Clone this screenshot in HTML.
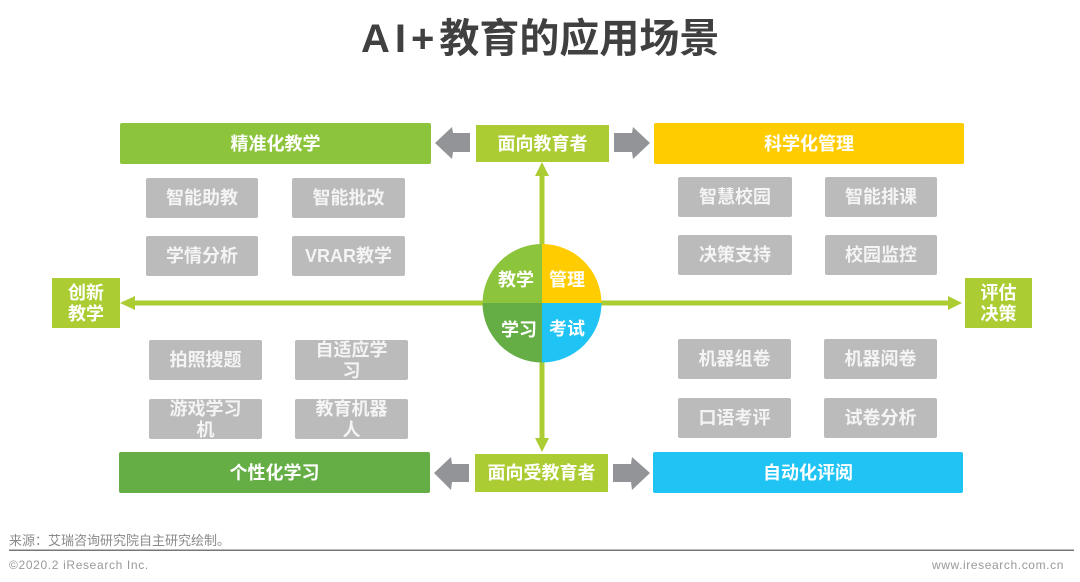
<!DOCTYPE html>
<html lang="zh-CN">
<head>
<meta charset="utf-8">
<title>AI+教育的应用场景</title>
<style>
html,body{margin:0;padding:0;background:#fff}
#c{position:relative;width:1080px;height:582px;overflow:hidden;background:#fff;font-family:"Liberation Sans","Noto Sans CJK SC",sans-serif}
#c svg{position:absolute;left:0;top:0}
.b{position:absolute;display:flex;align-items:center;justify-content:center;text-align:center;color:#fff;font-weight:700;font-size:18px;line-height:21px;box-sizing:border-box}
.h{border-radius:2px;padding-top:1px}
.g{background:#bbbbbb;color:#f4f4f4;border-radius:2px}
.w{padding-top:2px}
.l{background:#abcd33;padding-top:1px}
.t{position:absolute;white-space:nowrap}
</style>
</head>
<body>
<div id="c">
<div class="t" style="left:361px;top:13px;font-size:40px;line-height:52px;font-weight:700;color:#404040"><span style="letter-spacing:5px">AI+</span>教育的应用场景</div>

<svg width="1080" height="582" viewBox="0 0 1080 582">
  <rect x="135" y="300.5" width="813" height="5" fill="#abcd33"/>
  <polygon points="120,303 135,296 135,310" fill="#abcd33"/>
  <polygon points="962,303 948,296 948,310" fill="#abcd33"/>
  <rect x="539.5" y="175" width="5" height="264" fill="#abcd33"/>
  <polygon points="542,162 535,176 549,176" fill="#abcd33"/>
  <polygon points="542,452 535,438 549,438" fill="#abcd33"/>
  <path d="M542,303 L542,244 A59.5,59.5 0 0 0 482.5,303 Z" fill="#8cc43c"/>
  <path d="M542,303 L542,244 A59.5,59.5 0 0 1 601.5,303 Z" fill="#ffcc00"/>
  <path d="M542,303 L482.5,303 A59.5,59.5 0 0 0 542,362.5 Z" fill="#65ae45"/>
  <path d="M542,303 L601.5,303 A59.5,59.5 0 0 1 542,362.5 Z" fill="#1fc4f4"/>
  <polygon points="435,143 452,127 453,133 470,133 470,152 453,152 452,159" fill="#929497"/>
  <polygon points="650,143 633,127 632,133 614,133 614,152 632,152 633,159" fill="#929497"/>
  <polygon points="434,473 451,457 452,464 469,464 469,482 452,482 451,490" fill="#929497"/>
  <polygon points="650,473 632,457 631,464 613,464 613,482 631,482 632,490" fill="#929497"/>
  <rect x="9" y="549.5" width="1065" height="1.5" fill="#777777"/>
</svg>

<div class="b h" style="left:120px;top:123px;width:311px;height:41px;background:#8cc43c">精准化教学</div>
<div class="b h" style="left:654px;top:123px;width:310px;height:41px;background:#ffcc00">科学化管理</div>
<div class="b h" style="left:119px;top:452px;width:311px;height:41px;background:#65ae45">个性化学习</div>
<div class="b h" style="left:653px;top:452px;width:310px;height:41px;background:#1fc4f4">自动化评阅</div>

<div class="b l" style="left:476px;top:125px;width:133px;height:37px">面向教育者</div>
<div class="b l" style="left:475px;top:454px;width:133px;height:38px">面向受教育者</div>
<div class="b l" style="left:52px;top:278px;width:68px;height:50px">创新<br>教学</div>
<div class="b l" style="left:965px;top:278px;width:67px;height:50px">评估<br>决策</div>

<div class="b g" style="left:146px;top:178px;width:112px;height:40px">智能助教</div>
<div class="b g" style="left:292px;top:178px;width:113px;height:40px">智能批改</div>
<div class="b g" style="left:146px;top:236px;width:112px;height:40px">学情分析</div>
<div class="b g" style="left:292px;top:236px;width:113px;height:40px">VRAR教学</div>

<div class="b g" style="left:678px;top:177px;width:114px;height:40px">智慧校园</div>
<div class="b g" style="left:825px;top:177px;width:112px;height:40px">智能排课</div>
<div class="b g" style="left:678px;top:235px;width:114px;height:40px">决策支持</div>
<div class="b g" style="left:825px;top:235px;width:112px;height:40px">校园监控</div>

<div class="b g" style="left:149px;top:340px;width:113px;height:40px">拍照搜题</div>
<div class="b g w" style="left:295px;top:340px;width:113px;height:40px">自适应学<br>习</div>
<div class="b g w" style="left:149px;top:399px;width:113px;height:40px">游戏学习<br>机</div>
<div class="b g w" style="left:295px;top:399px;width:113px;height:40px">教育机器<br>人</div>

<div class="b g" style="left:678px;top:339px;width:113px;height:40px">机器组卷</div>
<div class="b g" style="left:824px;top:339px;width:113px;height:40px">机器阅卷</div>
<div class="b g" style="left:678px;top:398px;width:113px;height:40px">口语考评</div>
<div class="b g" style="left:824px;top:398px;width:113px;height:40px">试卷分析</div>

<div class="t" style="left:498px;top:268px;font-size:18px;line-height:24px;font-weight:700;color:#fff">教学</div>
<div class="t" style="left:549px;top:268px;font-size:18px;line-height:24px;font-weight:700;color:#fff">管理</div>
<div class="t" style="left:501px;top:318px;font-size:18px;line-height:24px;font-weight:700;color:#fff">学习</div>
<div class="t" style="left:549px;top:317px;font-size:18px;line-height:24px;font-weight:700;color:#fff">考试</div>

<div class="t" style="left:9px;top:532px;font-size:13px;line-height:18px;color:#8a8a8a">来源：艾瑞咨询研究院自主研究绘制。</div>
<div class="t" style="left:9px;top:557px;font-size:12px;line-height:16px;letter-spacing:0.65px;color:#999">©2020.2 iResearch Inc.</div>
<div class="t" style="right:16px;top:557px;font-size:12px;line-height:16px;letter-spacing:0.6px;color:#999">www.iresearch.com.cn</div>
</div>
</body>
</html>
